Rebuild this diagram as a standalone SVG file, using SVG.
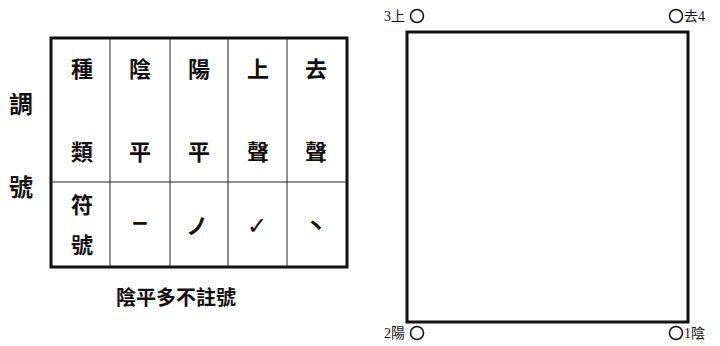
<svg xmlns="http://www.w3.org/2000/svg" width="720" height="346" viewBox="0 0 720 346">
<style>
.t{font-family:"Noto Sans CJK TC","Noto Sans CJK SC",sans-serif;font-weight:bold;fill:#111;text-anchor:middle;}
.big{font-size:24px;}
.cell{font-size:22px;}
.sym{font-size:22px;}
.lab{font-family:"Liberation Serif","Noto Sans CJK TC",serif;font-size:14px;fill:#111;}
.thin{stroke:#222;stroke-width:1;fill:none;}
.thick{stroke:#111;stroke-width:3;fill:none;}
.node{fill:#fff;stroke:#111;stroke-width:1.5;}
</style>
<rect width="720" height="346" fill="#fff"/>
<g id="side-label">
<text class="t big" x="21" y="113">調</text>
<text class="t big" x="21" y="196">號</text>
</g>
<g id="table">
<rect class="thick" x="51" y="38" width="296" height="229"/>
<line class="thin" x1="110" y1="38" x2="110" y2="267"/>
<line class="thin" x1="170" y1="38" x2="170" y2="267"/>
<line class="thin" x1="228" y1="38" x2="228" y2="267"/>
<line class="thin" x1="287" y1="38" x2="287" y2="267"/>
<line class="thin" x1="51" y1="182" x2="347" y2="182"/>
<text class="t cell" x="82" y="77">種</text>
<text class="t cell" x="82" y="160">類</text>
<text class="t cell" x="140" y="77">陰</text>
<text class="t cell" x="140" y="160">平</text>
<text class="t cell" x="199" y="77">陽</text>
<text class="t cell" x="199" y="160">平</text>
<text class="t cell" x="258" y="77">上</text>
<text class="t cell" x="258" y="160">聲</text>
<text class="t cell" x="316" y="77">去</text>
<text class="t cell" x="316" y="160">聲</text>
<text class="t cell" x="82" y="213">符</text>
<text class="t cell" x="82" y="253">號</text>
<text class="t" style="font-size:30px" x="140" y="232">–</text>
<text class="t sym" x="197" y="234">ノ</text>
<text class="t" style="font-family:'DejaVu Sans',sans-serif;font-size:24px" x="257" y="234">✓</text>
<text class="t sym" x="316" y="234">丶</text>
</g>
<g id="caption">
<text class="t" style="font-size:20px" x="176" y="305">陰平多不註號</text>
</g>
<g id="connectors">
<rect class="thick" x="407" y="32" width="281" height="290"/>
</g>
<g id="n3">
<text class="lab" x="384" y="21">3上</text>
<circle class="node" cx="417" cy="16" r="6.5"/>
</g>
<g id="n4">
<circle class="node" cx="676" cy="16" r="6.5"/>
<text class="lab" x="684" y="21">去4</text>
</g>
<g id="n2">
<text class="lab" x="384" y="338">2陽</text>
<circle class="node" cx="417" cy="333" r="6.5"/>
</g>
<g id="n1">
<circle class="node" cx="676" cy="333" r="6.5"/>
<text class="lab" x="684" y="338">1陰</text>
</g>
</svg>
